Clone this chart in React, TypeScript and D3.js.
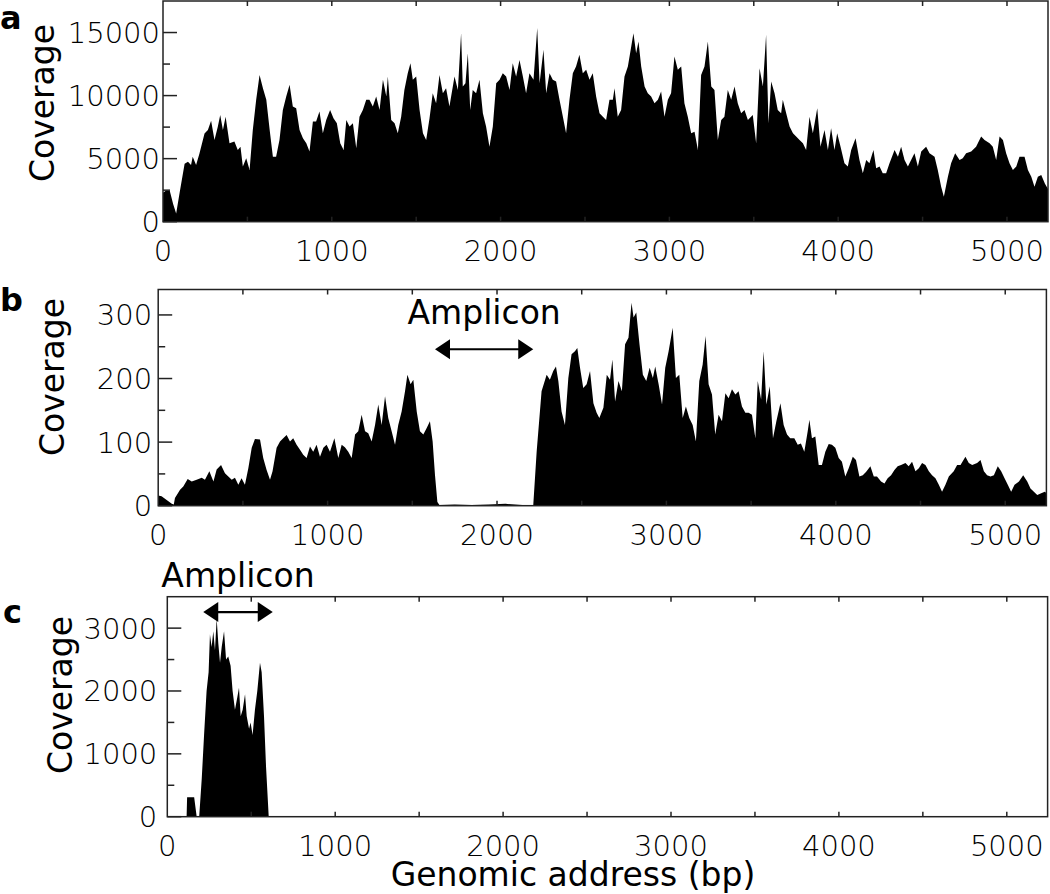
import * as d3 from "d3";

// read coverage per genomic address: [bp, coverage]
const coverageA: [number, number][] = [
  [0, 2300], [20, 2500], [40, 2450], [60, 1400], [78, 660], [98, 2250], [128, 4600], [148, 4760], [166, 4500], [176, 5160],
  [196, 4500], [216, 5400], [246, 7000], [266, 7280], [285, 8000], [305, 6480], [325, 7540], [339, 8470], [355, 7280], [371, 8330],
  [394, 6220], [423, 6350], [443, 5690], [459, 5950], [473, 4370], [493, 5030], [513, 4100], [532, 7280], [552, 9660], [572, 11640],
  [592, 10580], [612, 9660], [632, 7280], [651, 5160], [670, 5160], [690, 6480], [710, 8860], [730, 9920], [750, 10850], [769, 9130],
  [789, 9000], [809, 7280], [829, 6620], [849, 6220], [868, 5560], [888, 7940], [907, 7940], [927, 8730], [947, 7010], [967, 8070],
  [990, 8860], [1010, 8200], [1030, 7800], [1050, 6220], [1070, 5690], [1086, 8070], [1105, 7540], [1125, 7800], [1145, 5820], [1164, 8330],
  [1184, 8860], [1204, 9660], [1223, 9660], [1243, 9130], [1263, 9920], [1283, 8860], [1303, 11250], [1323, 9920], [1332, 11510], [1352, 8070],
  [1372, 7800], [1391, 7010], [1411, 8330], [1430, 10450], [1450, 11780], [1466, 12570], [1480, 11250], [1500, 11510], [1520, 8860], [1540, 7010],
  [1559, 6480], [1579, 8200], [1598, 10190], [1618, 9390], [1638, 11640], [1658, 10190], [1677, 10580], [1697, 9130], [1727, 11510], [1747, 10450],
  [1766, 14950], [1776, 10720], [1792, 10980], [1806, 13360], [1820, 8860], [1835, 10450], [1855, 10190], [1875, 11250], [1895, 8600], [1914, 7540],
  [1934, 5950], [1954, 7540], [1974, 10980], [1994, 11250], [2013, 11780], [2033, 11510], [2053, 10450], [2072, 12570], [2092, 11510], [2112, 12830],
  [2132, 11510], [2151, 10190], [2171, 11780], [2195, 11250], [2217, 15350], [2231, 10980], [2254, 13630], [2270, 10190], [2290, 11780], [2309, 11250],
  [2329, 11110], [2349, 9660], [2369, 8330], [2388, 7010], [2408, 9660], [2428, 11780], [2447, 12300], [2467, 13230], [2487, 11780], [2507, 12040],
  [2527, 11250], [2546, 11780], [2566, 9920], [2586, 8600], [2606, 8330], [2625, 8070], [2645, 9660], [2665, 9660], [2675, 10580], [2694, 8330],
  [2714, 8860], [2734, 11510], [2754, 12300], [2774, 13890], [2787, 14950], [2803, 13360], [2817, 14290], [2833, 12300], [2853, 10720], [2872, 10190],
  [2892, 9920], [2912, 9390], [2932, 9660], [2951, 10320], [2971, 8330], [2991, 9660], [3010, 10190], [3030, 13100], [3050, 12040], [3070, 12300],
  [3089, 9390], [3109, 8330], [3129, 7010], [3149, 7140], [3169, 5690], [3188, 11640], [3208, 12300], [3228, 14290], [3248, 10720], [3267, 10450],
  [3287, 6480], [3307, 8070], [3326, 8330], [3346, 10450], [3366, 9660], [3386, 10720], [3405, 9390], [3425, 8600], [3445, 8860], [3465, 8070],
  [3494, 8470], [3514, 6220], [3534, 12170], [3554, 10720], [3573, 14820], [3587, 7800], [3603, 11110], [3623, 10190], [3642, 8860], [3662, 8600],
  [3672, 9660], [3692, 8600], [3712, 7540], [3732, 7010], [3751, 6750], [3771, 6480], [3791, 6220], [3810, 5690], [3830, 8330], [3850, 7010],
  [3876, 9000], [3895, 5950], [3919, 7280], [3939, 5690], [3958, 7410], [3978, 5690], [3994, 7010], [4014, 5950], [4037, 4630], [4057, 4370],
  [4077, 5690], [4103, 6620], [4126, 4900], [4146, 3840], [4166, 4900], [4185, 4630], [4209, 5690], [4225, 4230], [4245, 4370], [4264, 3840],
  [4284, 3840], [4304, 4630], [4334, 5690], [4354, 5160], [4373, 5950], [4393, 4900], [4413, 4370], [4432, 4900], [4452, 5420], [4472, 4370],
  [4492, 5560], [4521, 5950], [4541, 5420], [4571, 5160], [4590, 4100], [4610, 2780], [4626, 1980], [4650, 3570], [4669, 4630], [4693, 5420],
  [4719, 4900], [4738, 5030], [4758, 5420], [4788, 5560], [4817, 5950], [4847, 6750], [4867, 6480], [4897, 6220], [4916, 5950], [4936, 4900],
  [4956, 6750], [4976, 6480], [4995, 5420], [5015, 4630], [5035, 4100], [5055, 4370], [5074, 5160], [5104, 5160], [5124, 4100], [5144, 3570],
  [5163, 2780], [5183, 3570], [5203, 3700], [5225, 3000], [5243, 2600],
];

const coverageB: [number, number][] = [
  [0, 16], [20, 15], [50, 9], [80, 3], [92, 2], [99, 12], [129, 25], [148, 30], [174, 42], [198, 38],
  [227, 41], [257, 44], [276, 41], [302, 54], [326, 38], [345, 57], [371, 64], [394, 51], [414, 46], [434, 41],
  [453, 44], [473, 33], [492, 43], [512, 33], [532, 59], [552, 91], [571, 105], [601, 104], [620, 75], [640, 56],
  [660, 41], [675, 54], [699, 91], [719, 101], [738, 106], [758, 111], [778, 101], [797, 106], [817, 96], [837, 88],
  [856, 80], [876, 75], [896, 93], [915, 85], [935, 96], [955, 77], [975, 91], [994, 96], [1014, 85], [1040, 106],
  [1063, 75], [1083, 96], [1102, 92], [1122, 85], [1142, 75], [1162, 112], [1181, 117], [1201, 143], [1221, 117], [1240, 114],
  [1260, 101], [1280, 127], [1299, 159], [1319, 127], [1339, 172], [1358, 138], [1378, 117], [1398, 96], [1417, 127], [1437, 148],
  [1457, 180], [1471, 206], [1490, 191], [1506, 198], [1526, 148], [1545, 117], [1565, 112], [1585, 122], [1604, 133], [1620, 101],
  [1634, 48], [1648, 6], [1660, 1], [1750, 2], [1850, 1], [1950, 2], [2050, 3], [2150, 1], [2214, 1], [2234, 85],
  [2263, 180], [2293, 206], [2312, 198], [2332, 212], [2348, 219], [2362, 196], [2381, 148], [2401, 127], [2421, 201], [2440, 238],
  [2460, 243], [2474, 248], [2490, 217], [2509, 185], [2529, 191], [2549, 212], [2569, 161], [2588, 146], [2604, 138], [2628, 154],
  [2648, 206], [2667, 198], [2681, 230], [2697, 164], [2717, 196], [2737, 180], [2756, 254], [2776, 264], [2794, 319], [2806, 296],
  [2822, 304], [2841, 254], [2861, 206], [2881, 196], [2901, 217], [2920, 201], [2934, 219], [2954, 191], [2974, 159], [2993, 217],
  [3013, 243], [3037, 280], [3056, 201], [3076, 206], [3096, 138], [3115, 156], [3135, 138], [3155, 127], [3174, 101], [3194, 196],
  [3214, 222], [3231, 267], [3249, 191], [3269, 175], [3288, 112], [3308, 143], [3328, 133], [3348, 177], [3367, 169], [3387, 183],
  [3407, 175], [3426, 180], [3446, 156], [3466, 146], [3485, 146], [3505, 143], [3525, 106], [3539, 196], [3559, 167], [3574, 243],
  [3590, 159], [3610, 188], [3629, 106], [3649, 133], [3673, 161], [3692, 127], [3712, 112], [3731, 106], [3755, 106], [3775, 96],
  [3794, 98], [3814, 85], [3834, 117], [3844, 135], [3859, 106], [3879, 109], [3899, 64], [3918, 64], [3938, 85], [3958, 97],
  [3977, 96], [3997, 91], [4017, 75], [4036, 69], [4056, 46], [4076, 59], [4100, 77], [4119, 72], [4139, 46], [4159, 48],
  [4178, 53], [4204, 62], [4224, 46], [4243, 46], [4267, 38], [4287, 35], [4306, 43], [4326, 48], [4346, 56], [4365, 62],
  [4385, 64], [4411, 67], [4430, 62], [4450, 69], [4470, 54], [4490, 59], [4509, 67], [4529, 64], [4549, 54], [4568, 48],
  [4588, 43], [4608, 33], [4627, 22], [4647, 33], [4667, 46], [4696, 54], [4716, 64], [4736, 64], [4765, 77], [4785, 67],
  [4805, 64], [4834, 67], [4854, 72], [4874, 54], [4893, 48], [4913, 46], [4933, 48], [4956, 62], [4976, 54], [4996, 43],
  [5015, 33], [5035, 22], [5055, 33], [5081, 38], [5106, 48], [5130, 38], [5149, 27], [5169, 22], [5189, 17], [5209, 19],
  [5233, 22], [5243, 20],
];

const coverageC: [number, number][] = [
  [0, 0], [115, 0], [118, 310], [160, 310], [175, 0], [190, 0], [205, 600], [219, 1300], [234, 2000], [246, 2300],
  [254, 2900], [264, 2700], [274, 2950], [284, 2650], [294, 3150], [304, 2750], [314, 2450], [324, 2700], [338, 2950], [350, 2500],
  [363, 2550], [377, 2400], [389, 2000], [403, 1700], [417, 1900], [427, 2050], [437, 1600], [449, 1700], [463, 1950], [473, 1600],
  [487, 1400], [496, 1500], [508, 1300], [522, 1700], [536, 2000], [552, 2450], [562, 2300], [576, 1600], [588, 800], [604, 0],
  [5243, 0],
];

const genomeLength = 5243;
const xLabelTicks = [0, 1000, 2000, 3000, 4000, 5000];
const xAllTicks = [500, 1000, 1500, 2000, 2500, 3000, 3500, 4000, 4500, 5000];

const yTicksA = [0, 5000, 10000, 15000];
const yMinorA = [2500, 7500, 12500];
const yTicksB = [0, 100, 200, 300];
const yMinorB = [50, 150, 250];
const yTicksC = [0, 1000, 2000, 3000];
const yMinorC = [500, 1500, 2500];

// amplicon spans (bp) and the coverage level the arrow sits at
const ampliconB = [1634, 2214];
const ampliconLevelB = 246;
const ampliconC = [214, 628];
const ampliconLevelC = 3255;

const tickFont = "'DejaVu Sans', sans-serif";

function Panel(props) {
  const p = props.p;
  const x = d3.scaleLinear([0, genomeLength], [p.left, p.right]);
  const y = d3.scaleLinear([0, p.yMax], [p.bottom, p.top]);
  const area = d3.area<[number, number]>()
    .x(d => x(d[0]))
    .y0(y(0))
    .y1(d => y(d[1]));

  let arrow = null;
  if (p.amplicon) {
    const ax0 = x(p.amplicon[0]);
    const ax1 = x(p.amplicon[1]);
    const ay = y(p.ampliconLevel);
    const head = 15;
    const half = 10;
    arrow = (
      <g>
        <line x1={ax0 + head - 2} x2={ax1 - head + 2} y1={ay} y2={ay} stroke="#000" strokeWidth={2.2} />
        <path d={`M${ax0},${ay} L${ax0 + head},${ay - half} L${ax0 + head},${ay + half} Z`} fill="#000" />
        <path d={`M${ax1},${ay} L${ax1 - head},${ay - half} L${ax1 - head},${ay + half} Z`} fill="#000" />
        <text x={(ax0 + ax1) / 2} y={ay - 25} textAnchor="middle" fontFamily={tickFont} fontSize={33}>Amplicon</text>
      </g>
    );
  }

  return (
    <g>
      <path d={area(p.data)} fill="#000" />
      <rect x={p.left} y={p.top} width={p.right - p.left} height={p.bottom - p.top} fill="none" stroke="#222" strokeWidth={1.5} />
      {xAllTicks.map(t => (
        <g key={"xt" + t}>
          <line x1={x(t)} x2={x(t)} y1={p.top} y2={p.top + 5} stroke="#222" strokeWidth={1.5} />
          <line x1={x(t)} x2={x(t)} y1={p.bottom} y2={p.bottom - 5} stroke="#222" strokeWidth={1.5} />
        </g>
      ))}
      {p.yTicks.map(t => (
        <line key={"yt" + t} x1={p.left} x2={p.left + 14} y1={y(t)} y2={y(t)} stroke="#222" strokeWidth={1.5} />
      ))}
      {p.yMinor.map(t => (
        <line key={"ym" + t} x1={p.left} x2={p.left + 7} y1={y(t)} y2={y(t)} stroke="#222" strokeWidth={1.5} />
      ))}
      {p.yTicks.map(t => (
        <text key={"yl" + t} x={p.left - p.labelGap} y={y(t)} dy="0.36em" textAnchor="end"
          fontFamily={tickFont} fontWeight={200} fontSize={29}>{t}</text>
      ))}
      {xLabelTicks.map(t => (
        <text key={"xl" + t} x={x(t)} y={p.bottom + 39} textAnchor="middle"
          fontFamily={tickFont} fontWeight={200} fontSize={29}>{t}</text>
      ))}
      <text transform={`translate(${p.titleX},${p.titleY}) rotate(-90)`} textAnchor="middle"
        fontFamily={tickFont} fontSize={33}>Coverage</text>
      <text x={p.letterX} y={p.letterY} fontFamily={tickFont} fontWeight="bold" fontSize={32}>{p.letter}</text>
      {arrow}
    </g>
  );
}

export default function App() {
  const panels = [
    { letter: "a", data: coverageA, yMax: 17500, yTicks: yTicksA, yMinor: yMinorA,
      left: 163, right: 1048, top: 1, bottom: 221.7, labelGap: 3,
      titleX: 54, titleY: 103, letterX: 0, letterY: 29 },
    { letter: "b", data: coverageB, yMax: 340, yTicks: yTicksB, yMinor: yMinorB,
      left: 158.2, right: 1046.4, top: 289.5, bottom: 505.7, labelGap: 6,
      titleX: 64, titleY: 377, letterX: 0, letterY: 311,
      amplicon: ampliconB, ampliconLevel: ampliconLevelB },
    { letter: "c", data: coverageC, yMax: 3500, yTicks: yTicksC, yMinor: yMinorC,
      left: 167.3, right: 1047.6, top: 596.7, bottom: 816.7, labelGap: 10,
      titleX: 72, titleY: 695, letterX: 3, letterY: 623,
      amplicon: ampliconC, ampliconLevel: ampliconLevelC },
  ];

  return (
    <svg width={1050} height={894} style={{ position: "absolute", left: 0, top: 0, background: "#fff" }}>
      {panels.map(p => <Panel key={p.letter} p={p} />)}
      <text x={573} y={886} textAnchor="middle" fontFamily={tickFont} fontSize={33}>Genomic address (bp)</text>
    </svg>
  );
}
